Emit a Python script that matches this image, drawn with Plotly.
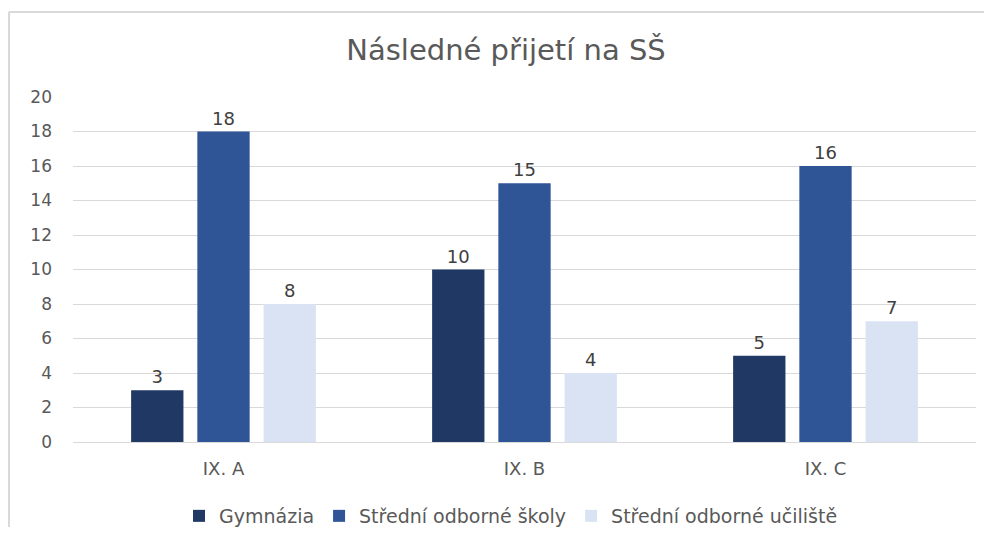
import plotly.graph_objects as go

categories = ["IX. A", "IX. B", "IX. C"]
series_names = ["Gymnázia", "Střední odborné školy", "Střední odborné učiliště"]
gymnazia = [3, 10, 5]
sos = [18, 15, 16]
sou = [8, 4, 7]
colors = ["#203864", "#2F5597", "#DAE3F3"]
y_ticks = list(range(0, 21, 2))

# page body has an 8px margin; size the figure so that it fits the window
OFF = 8
W, H = 992 - 2 * OFF, 539 - 2 * OFF - 4
ml, mr, mt, mb = 73 - OFF, W - (976 - OFF), 97 - OFF, H - (442 - OFF)
pw, ph = W - ml - mr, H - mt - mb
FONT = "DejaVu Sans"

fig = go.Figure()
for name, vals, c in zip(series_names, [gymnazia, sos, sou], colors):
    fig.add_trace(go.Bar(
        x=categories, y=vals, name=name, marker=dict(color=c, line=dict(width=0)),
        text=vals, textposition="outside", cliponaxis=False,
        textfont=dict(color="#404040", size=18, family=FONT),
    ))

fx = lambda px: (px - OFF - ml) / pw
fy = lambda py: (H - mb - (py - OFF)) / ph

fig.update_layout(
    width=W, height=H,
    margin=dict(l=ml, r=mr, t=mt, b=mb, autoexpand=False),
    paper_bgcolor="white", plot_bgcolor="white",
    barmode="group", bargap=0.34, bargroupgap=0.21,
    font=dict(family=FONT, color="#595959"),
    title=dict(text="Následné přijetí na SŠ", x=fx(506), xanchor="center", xref="paper",
               y=1 - (50 - OFF) / H, yanchor="middle",
               font=dict(size=29, color="#595959", family=FONT)),
    yaxis=dict(range=[0, 20], tickvals=y_ticks, showgrid=True, gridcolor="#D9D9D9",
               gridwidth=1, zeroline=True, zerolinecolor="#D9D9D9", zerolinewidth=1,
               showline=False, ticks="", tickfont=dict(size=17, color="#595959", family=FONT),
               ticklabelstandoff=20, automargin=False),
    xaxis=dict(showline=False, ticks="", tickfont=dict(size=18, color="#595959", family=FONT),
               showgrid=False, ticklabelstandoff=14, automargin=False),
    legend=dict(orientation="h", x=fx(511), xanchor="center", y=fy(516), yanchor="middle",
                font=dict(size=19, color="#595959", family=FONT), itemwidth=30,
                traceorder="normal"),
    showlegend=True,
    shapes=[
        dict(type="line", xref="paper", yref="paper", x0=fx(9), x1=fx(OFF + W), y0=fy(12), y1=fy(12),
             line=dict(color="#D9D9D9", width=2)),
        dict(type="line", xref="paper", yref="paper", x0=fx(9), x1=fx(9), y0=fy(12), y1=fy(OFF + H),
             line=dict(color="#D9D9D9", width=2)),
    ],
)

fig.write_html("out.html", config={"displayModeBar": False})
